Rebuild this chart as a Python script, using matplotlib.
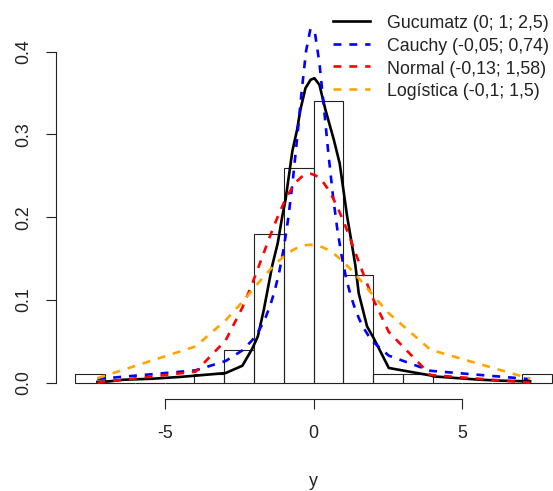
import matplotlib
matplotlib.use("Agg")
import matplotlib.pyplot as plt
from matplotlib.lines import Line2D

plt.rcParams['font.family'] = ['Liberation Sans', 'DejaVu Sans']

# ---------------- data ----------------
bin_edges = list(range(-8, 9))
hist_density = [0.01, 0, 0, 0, 0.01, 0.04, 0.18, 0.26, 0.34, 0.13, 0.01, 0.01, 0, 0, 0, 0.01]

# Gucumatz (0; 1; 2,5)
guc_x = [-7.26, -6.87, -6.38, -5.41, -4.52, -3.96, -2.95, -2.39, -2.06, -1.87, -1.67, -1.39,
         -1.2, -1.05, -0.94, -0.71, -0.55, -0.44, -0.27, -0.1, 0.03, 0.2, 0.4, 0.68, 0.88,
         1.13, 1.3, 1.41, 1.52, 1.8, 2.02, 2.53, 3.93, 4.04, 4.77, 5.6, 6.33, 7.28]
guc_y = [0.001, 0.0016, 0.0036, 0.0048, 0.0069, 0.0085, 0.0117, 0.0205, 0.041, 0.056, 0.088, 0.141,
         0.169, 0.201, 0.221, 0.28, 0.306, 0.33, 0.356, 0.366, 0.368, 0.36, 0.33, 0.294, 0.265,
         0.201, 0.165, 0.141, 0.108, 0.068, 0.054, 0.0178, 0.0088, 0.0076, 0.0057, 0.0036, 0.0024, 0.0016]

# common x points for the other three fitted curves
fit_x = [-7.26, -3.96, -2.95, -2.39, -2.06, -1.90, -1.75, -1.60, -1.45, -1.30, -1.15, -1.00,
         -0.85, -0.70, -0.55, -0.40, -0.25, -0.10, 0.05, 0.20, 0.35, 0.50, 0.65, 0.80, 0.95,
         1.10, 1.25, 1.40, 1.55, 1.70, 1.85, 2.02, 2.53, 3.93, 7.28]
cauchy_y = [0.0045, 0.0149, 0.0263, 0.0391, 0.0513, 0.0593, 0.0685, 0.0798, 0.0939, 0.1116, 0.134, 0.1624,
            0.1983, 0.2427, 0.2953, 0.3515, 0.4008, 0.4281, 0.4224, 0.3861, 0.3328, 0.2771, 0.227, 0.1854, 0.1522,
            0.1259, 0.1053, 0.0889, 0.0758, 0.0652, 0.0566, 0.0487, 0.0327, 0.0144, 0.0043]
normal_y = [0.0, 0.0134, 0.0513, 0.0908, 0.1197, 0.1348, 0.1493, 0.1638, 0.1781, 0.192, 0.205, 0.217,
            0.2276, 0.2366, 0.2437, 0.2488, 0.2518, 0.2525, 0.2509, 0.2471, 0.2411, 0.2332, 0.2235, 0.2123, 0.1999,
            0.1866, 0.1726, 0.1578, 0.1435, 0.129, 0.115, 0.0999, 0.0613, 0.0093, 0.0]
logis_y = [0.0055, 0.0439, 0.0755, 0.0977, 0.1118, 0.1186, 0.1249, 0.1311, 0.137, 0.1426, 0.1478, 0.1525,
           0.1567, 0.1602, 0.163, 0.165, 0.1663, 0.1667, 0.1663, 0.165, 0.163, 0.1602, 0.1567, 0.1525, 0.1478,
           0.1426, 0.137, 0.1311, 0.1249, 0.1186, 0.1122, 0.1049, 0.0839, 0.0398, 0.0048]

legend_labels = ["Gucumatz (0; 1; 2,5)", "Cauchy (-0,05; 0,74)", "Normal (-0,13; 1,58)", "Logística (-0,1; 1,5)"]
legend_colors = ["black", "#0000FF", "#FF0000", "#FFA500"]

xticks = [-5, 0, 5]
xtick_labels = ["-5", "0", "5"]
yticks = [0.0, 0.1, 0.2, 0.3, 0.4]
ytick_labels = ["0.0", "0.1", "0.2", "0.3", "0.4"]

# ---------------- figure ----------------
W, H = 553, 491
fig = plt.figure(figsize=(W / 100, H / 100), dpi=100)
left_px, bottom_px = 56, 399
ax = fig.add_axes([left_px / W, (H - bottom_px) / H, (W - left_px) / W, bottom_px / H])
ax.set_xlim(-8.653, 8.048)
ax.set_ylim(-0.0197, 0.4625)

FS = 12.8
dash = (0, (3, 3))
lw = 1.9

ax.bar(bin_edges[:-1], hist_density, width=1, align='edge', fill=False,
       edgecolor='#222222', linewidth=0.8, zorder=1)

ax.plot(guc_x, guc_y, color=legend_colors[0], lw=lw, zorder=3)
ax.plot(fit_x, cauchy_y, color=legend_colors[1], lw=lw, ls=dash, zorder=4)
ax.plot(fit_x, normal_y, color=legend_colors[2], lw=lw, ls=dash, zorder=5)
ax.plot(fit_x, logis_y, color=legend_colors[3], lw=lw, ls=dash, zorder=6)

for s in ['top', 'right']:
    ax.spines[s].set_visible(False)
ax.spines['left'].set_bounds(0, 0.4)
ax.spines['bottom'].set_bounds(-5, 5)
for s in ['left', 'bottom']:
    ax.spines[s].set_linewidth(0.8)
    ax.spines[s].set_color('#222222')

ax.set_xticks(xticks)
ax.set_xticklabels(xtick_labels)
ax.set_yticks(yticks)
ax.set_yticklabels(ytick_labels, rotation=90, va='center')
ax.tick_params(axis='both', direction='out', length=7.3, width=0.8, color='#222222',
               labelsize=FS, labelcolor='#222222')
ax.tick_params(axis='x', pad=11.5)
ax.tick_params(axis='y', pad=9.5)

fig.text(313.5 / W, 1 - 481 / H, "y", ha='center', va='center', fontsize=FS, color='#222222')

# legend (no box, R style)
row_y = [20.7, 43.5, 66.3, 89.1]
for i, (lab, col) in enumerate(zip(legend_labels, legend_colors)):
    yy = 1 - row_y[i] / H
    ls = '-' if i == 0 else dash
    fig.add_artist(Line2D([333.3 / W, 370 / W], [yy, yy], color=col, lw=lw, ls=ls,
                          transform=fig.transFigure))
    fig.text(386.7 / W, 1 - (row_y[i] + 7.4) / H, lab, ha='left', va='baseline',
             fontsize=FS, color='#222222')

fig.savefig("out.png", dpi=100)
